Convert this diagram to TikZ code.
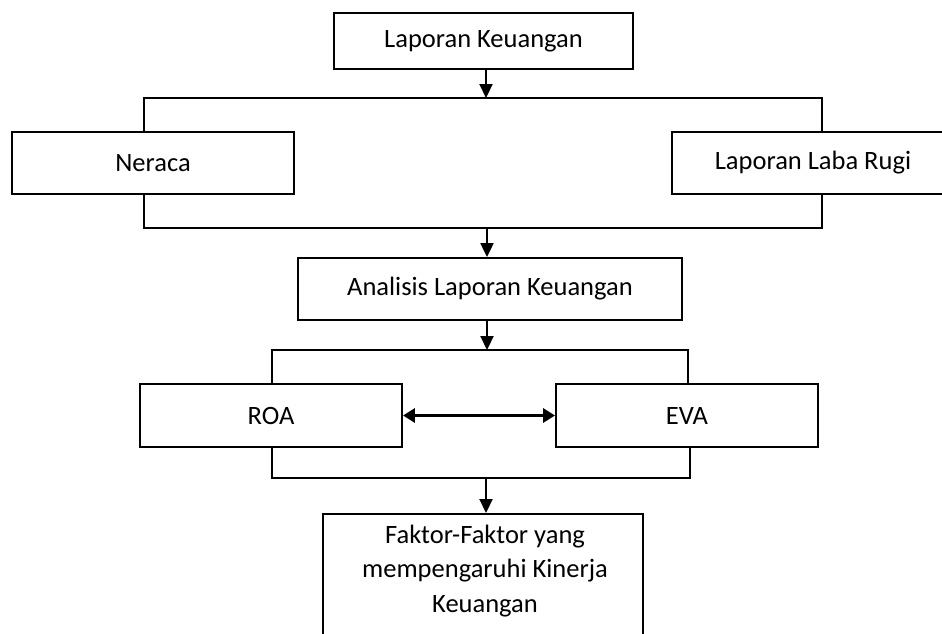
\documentclass[tikz,border=0pt]{standalone}
\usepackage{fontspec}
\setmainfont{Carlito}
\usetikzlibrary{arrows.meta}
\begin{document}
\begin{tikzpicture}[x=1pt,y=-1pt,line width=1.9pt,
  box/.style={draw,rectangle,inner sep=0pt,font=\fontsize{26.5}{34.5}\selectfont},
  arr/.style={line width=2.2pt,-{Triangle[width=13pt,length=14pt]}},
  darr/.style={line width=3pt,{Triangle[width=14pt,length=12pt]}-{Triangle[width=14pt,length=12pt]}}]
\useasboundingbox (0,0) rectangle (942,634);
\clip (0,0) rectangle (942,634);
\fill[white] (0,0) rectangle (942,634);
% boxes
\node[box,minimum width=299pt,minimum height=56pt] (top) at (483.5,41) {Laporan Keuangan};
\node[box,minimum width=282pt,minimum height=62pt] (neraca) at (153,163) {Neraca};
\node[box,minimum width=282pt,minimum height=62pt] (lrugi) at (813,163) {Laporan Laba Rugi};
\node[box,minimum width=384pt,minimum height=62pt] (analisis) at (490,289) {Analisis Laporan Keuangan};
\node[box,minimum width=262pt,minimum height=63pt] (roa) at (271,415.5) {ROA};
\node[box,minimum width=262pt,minimum height=63pt] (eva) at (687,415.5) {EVA};
\node[box,minimum width=320pt,minimum height=150pt,anchor=north] (faktor) at (483,513) {};
\node[align=center,anchor=north,inner sep=0pt,font=\fontsize{26.5}{34.5}\selectfont] (ftext) at (485,524)
  {Faktor-Faktor yang\\mempengaruhi Kinerja\\Keuangan};
% junction coordinates
\coordinate (j1) at (486,98);
\coordinate (nl) at (144,98);
\coordinate (nr) at (822,98);
\coordinate (bl) at (144,228);
\coordinate (br) at (822,228);
\coordinate (j2) at (487,228);
\coordinate (j3) at (487,350);
\coordinate (rl) at (272,350);
\coordinate (rr) at (688,350);
\coordinate (ql) at (272,478);
\coordinate (qr) at (690,478);
\coordinate (j4) at (486,478);
% connectors
\draw[arr] (j1 |- top.south) -- (j1);
\draw (nl |- neraca.north) -- (nl) -- (nr) -- (nr |- lrugi.north);
\draw (bl |- neraca.south) -- (bl) -- (br) -- (br |- lrugi.south);
\draw[arr] (j2) -- (j2 |- analisis.north);
\draw[arr] (j3 |- analisis.south) -- (j3);
\draw (rl |- roa.north) -- (rl) -- (rr) -- (rr |- eva.north);
\draw (ql |- roa.south) -- (ql) -- (qr) -- (qr |- eva.south);
\draw[arr] (j4) -- (j4 |- faktor.north);
\draw[darr] (roa.east) -- (eva.west);
\end{tikzpicture}
\end{document}
